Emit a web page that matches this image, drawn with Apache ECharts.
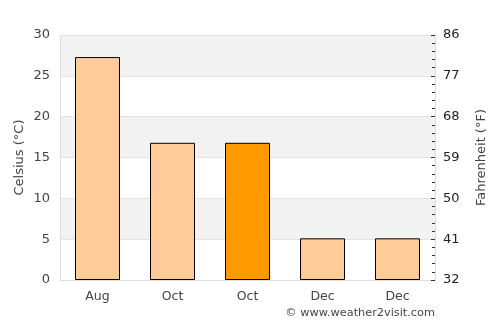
<!DOCTYPE html>
<html>
<head>
<meta charset="utf-8">
<script src="https://cdn.jsdelivr.net/npm/echarts@6/dist/echarts.min.js"></script>
<style>
  html, body { margin: 0; padding: 0; background: #fff; }
  #chart { width: 500px; height: 325px; }
</style>
</head>
<body>
<div id="chart"></div>
<script>
const months = ["Aug", "Oct", "Oct", "Dec", "Dec"];
const celsius = [27.3, 16.8, 16.8, 5.1, 5.1];
const highlightIndex = 2;

const chart = echarts.init(document.getElementById("chart"));
const font = "DejaVu Sans";

chart.setOption({
  animation: false,
  backgroundColor: "#fff",
  grid: { left: 60, right: 65, top: 35, bottom: 45 },
  xAxis: {
    type: "category",
    data: months,
    axisLine: { lineStyle: { color: "#ddd" } },
    axisTick: { show: false },
    axisLabel: { color: "#444", fontFamily: font, fontSize: 12.5, margin: 10 },
  },
  yAxis: [
    {
      type: "value",
      min: 0,
      max: 30,
      interval: 5,
      name: "Celsius (°C)",
      nameLocation: "middle",
      nameGap: 34,
      nameMoveOverlap: false,
      nameTextStyle: { color: "#444", fontFamily: font, fontSize: 13 },
      axisLine: { show: true, lineStyle: { color: "#ddd" } },
      axisTick: { show: false },
      axisLabel: { color: "#444", fontFamily: font, fontSize: 13, margin: 10 },
      splitLine: { lineStyle: { color: "#e2e2e2" } },
      splitArea: { show: true, areaStyle: { color: ["#ffffff", "#f2f2f2"] } },
    },
    {
      type: "value",
      position: "right",
      min: 32,
      max: 86,
      interval: 9,
      name: "Fahrenheit (°F)",
      nameLocation: "middle",
      nameGap: 40,
      nameMoveOverlap: false,
      nameTextStyle: { color: "#444", fontFamily: font, fontSize: 13 },
      axisLine: { show: true, lineStyle: { color: "#ddd" } },
      axisTick: { show: true, inside: true, length: 4, lineStyle: { color: "#333" } },
      minorTick: { show: true, splitNumber: 5, length: 3, lineStyle: { color: "#333" } },
      axisLabel: { color: "#222", fontFamily: font, fontSize: 13, margin: 8 },
      splitLine: { show: false },
    },
  ],
  series: [
    {
      type: "bar",
      yAxisIndex: 0,
      barWidth: "60%",
      data: celsius.map((v, i) => ({
        value: v,
        itemStyle: { color: i === highlightIndex ? "#ff9900" : "#ffcc99" },
      })),
      itemStyle: { borderColor: "#000", borderWidth: 1 },
    },
  ],
  graphic: [
    {
      type: "text",
      right: 65,
      bottom: 6,
      style: {
        text: "© www.weather2visit.com",
        fill: "#444",
        font: "11.3px DejaVu Sans",
      },
    },
  ],
});
</script>
</body>
</html>
